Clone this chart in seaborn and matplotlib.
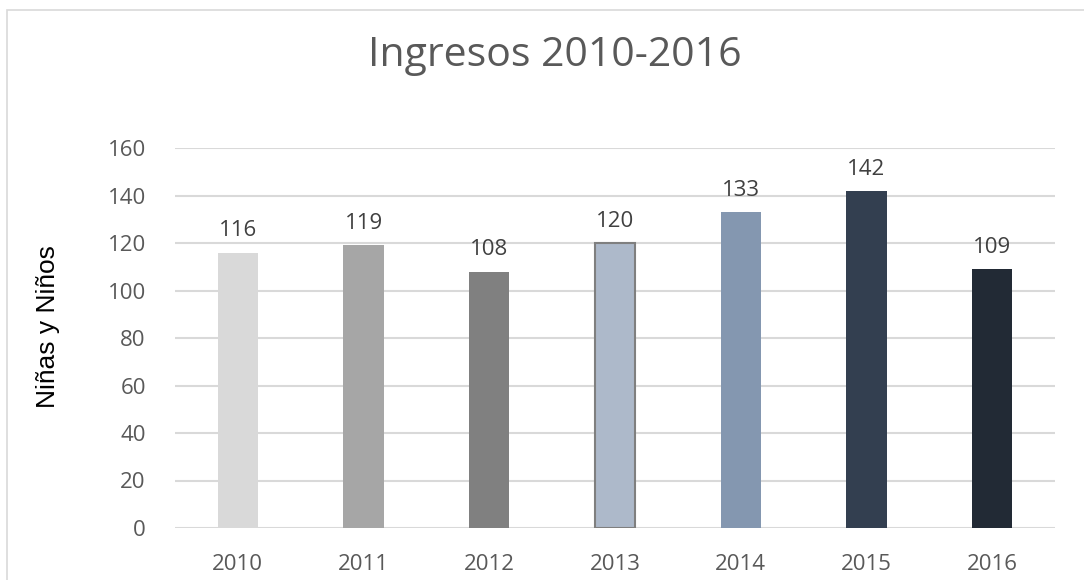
import matplotlib
matplotlib.use("Agg")
import matplotlib.pyplot as plt
import seaborn as sns
import pandas as pd
from matplotlib.patches import Rectangle

years = ["2010", "2011", "2012", "2013", "2014", "2015", "2016"]
values = [116, 119, 108, 120, 133, 142, 109]
colors = ["#d9d9d9", "#a6a6a6", "#808080", "#adb9ca", "#8497b0", "#333f50", "#222a35"]
title = "Ingresos 2010-2016"
ylabel = "Niñas y Niños"
yticks = [0, 20, 40, 60, 80, 100, 120, 140, 160]

sns.set_theme(style="white")
plt.rcParams['font.family'] = ['Open Sans', 'DejaVu Sans']

df = pd.DataFrame({"year": years, "value": values})

fig = plt.figure(figsize=(10.84, 5.8), dpi=100)
ax = fig.add_axes([175/1084, 52/580, 880/1084, 380/580])

sns.barplot(data=df, x="year", y="value", hue="year", palette=colors,
            legend=False, width=0.32, ax=ax, saturation=1)

for i, p in enumerate(ax.patches[:len(years)]):
    if years[i] == "2013":
        p.set_edgecolor("#7f7f7f")
        p.set_linewidth(1.5)
    else:
        p.set_linewidth(0)

ax.set_ylim(0, 160)
ax.set_yticks(yticks)
ax.yaxis.grid(True, color="#d9d9d9", linewidth=1.5)
ax.set_axisbelow(True)
for s in ax.spines.values():
    s.set_visible(False)
ax.tick_params(axis="both", length=0, labelsize=16, labelcolor="#595959")
ax.tick_params(axis="x", pad=19)
ax.tick_params(axis="y", pad=21)
ax.set_xlabel("")
ax.set_ylabel("")

fig.text(48/1084, 1 - 327/580, ylabel, rotation=90, ha="center", va="center",
         fontsize=19, color="black", family=["Liberation Sans"])

for i, v in enumerate(values):
    ax.annotate(str(v), (i, v), xytext=(0, 8), textcoords="offset points",
                ha="center", va="bottom", fontsize=16, color="#404040")

fig.text(555/1084, 1 - 56/580, title, ha="center", va="center",
         fontsize=29.5, color="#595959", family=["Open Sans", "DejaVu Sans"])

fig.patches.append(Rectangle((7/1084, -0.05), 1.1, 1 - 10/580 + 0.05,
                             transform=fig.transFigure, fill=False,
                             edgecolor="#d9d9d9", linewidth=1.2))

fig.savefig("out.png", dpi=100)
